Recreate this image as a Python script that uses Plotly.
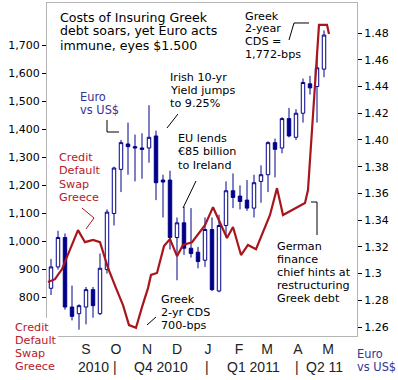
import plotly.graph_objects as go

# ---------------- data ----------------
candle_dates = [
    "2010-07-28", "2010-08-04", "2010-08-11", "2010-08-18", "2010-08-25",
    "2010-09-01", "2010-09-08", "2010-09-15", "2010-09-22", "2010-09-29",
    "2010-10-06", "2010-10-13", "2010-10-20", "2010-10-27", "2010-11-03",
    "2010-11-10", "2010-11-17", "2010-11-24", "2010-12-01", "2010-12-08",
    "2010-12-15", "2010-12-22", "2010-12-29", "2011-01-05", "2011-01-12",
    "2011-01-19", "2011-01-26", "2011-02-02", "2011-02-09", "2011-02-16",
    "2011-02-23", "2011-03-02", "2011-03-09", "2011-03-16", "2011-03-23",
    "2011-03-30", "2011-04-06", "2011-04-13", "2011-04-20", "2011-04-27",
]
eur_open = [1.289, 1.305, 1.327, 1.275, 1.270, 1.275, 1.288, 1.270, 1.303, 1.345,
            1.378, 1.397, 1.395, 1.394, 1.394, 1.403, 1.370, 1.370, 1.327, 1.338,
            1.319, 1.316, 1.310, 1.333, 1.287, 1.336, 1.362, 1.358, 1.355, 1.349,
            1.369, 1.374, 1.398, 1.394, 1.416, 1.402, 1.420, 1.442, 1.440, 1.453]
eur_high = [1.311, 1.332, 1.330, 1.291, 1.277, 1.290, 1.290, 1.315, 1.348, 1.380,
            1.400, 1.413, 1.404, 1.405, 1.426, 1.407, 1.374, 1.377, 1.342, 1.350,
            1.349, 1.320, 1.342, 1.342, 1.344, 1.369, 1.375, 1.366, 1.370, 1.374,
            1.381, 1.399, 1.401, 1.417, 1.424, 1.423, 1.446, 1.448, 1.462, 1.482]
eur_low = [1.284, 1.303, 1.273, 1.265, 1.258, 1.262, 1.267, 1.269, 1.300, 1.336,
           1.361, 1.374, 1.369, 1.371, 1.383, 1.355, 1.342, 1.318, 1.295, 1.314,
           1.312, 1.304, 1.305, 1.287, 1.286, 1.327, 1.349, 1.348, 1.347, 1.342,
           1.353, 1.361, 1.372, 1.390, 1.402, 1.400, 1.413, 1.434, 1.413, 1.447]
eur_close = [1.305, 1.327, 1.275, 1.268, 1.276, 1.288, 1.276, 1.304, 1.346, 1.379,
             1.398, 1.395, 1.394, 1.393, 1.402, 1.368, 1.3685, 1.327, 1.338, 1.319,
             1.315, 1.309, 1.333, 1.288, 1.336, 1.362, 1.357, 1.354, 1.349, 1.368,
             1.374, 1.398, 1.393, 1.416, 1.403, 1.420, 1.443, 1.439, 1.454, 1.4785]

cds_dates = [
    "2010-07-25", "2010-08-01", "2010-08-08", "2010-08-16", "2010-08-24",
    "2010-08-31", "2010-09-08", "2010-09-15", "2010-09-23", "2010-10-01",
    "2010-10-08", "2010-10-14", "2010-10-21", "2010-10-27", "2010-11-02",
    "2010-11-05", "2010-11-11", "2010-11-18", "2010-11-24", "2010-12-01",
    "2010-12-07", "2010-12-16", "2010-12-29", "2011-01-06", "2011-01-13",
    "2011-01-20", "2011-01-26", "2011-02-03", "2011-02-10", "2011-02-18",
    "2011-03-04", "2011-03-11", "2011-03-17", "2011-04-08", "2011-04-11",
    "2011-04-22", "2011-04-30", "2011-05-02",
]
cds_bps = [854, 864, 900, 968, 1039, 996, 1004, 996, 904, 832,
           771, 700, 690, 764, 832, 879, 886, 982, 1007, 946,
           986, 996, 1057, 1121, 1068, 1011, 1050, 950, 986, 971,
           1093, 1189, 1093, 1136, 1182, 1772, 1772, 1739]

month_ticks = ["2010-09-01", "2010-10-01", "2010-11-01", "2010-12-01", "2011-01-01",
               "2011-02-01", "2011-03-01", "2011-04-01", "2011-05-01"]
month_labels = ["S", "O", "N", "D", "J", "F", "M", "A", "M"]
period_dates = ["2010-09-08", "2010-09-30", "2010-11-15", "2010-12-31",
                "2011-02-15", "2011-03-31", "2011-04-27"]
period_labels = ["2010", "|", "Q4 2010", "|", "Q1 2011", "|", "Q2 11"]

cds_ticks = [800, 900, 1000, 1100, 1200, 1300, 1400, 1500, 1600, 1700]
cds_tick_labels = ["800", "900", "1,000", "1,100", "1,200", "1,300", "1,400",
                   "1,500", "1,600", "1,700"]
eur_ticks = [1.26, 1.28, 1.30, 1.32, 1.34, 1.36, 1.38, 1.40, 1.42, 1.44, 1.46, 1.48]
eur_tick_labels = ["1.26", "1.28", "1.3", "1.32", "1.34", "1.36", "1.38", "1.40",
                   "1.42", "1.44", "1.46", "1.48"]

title_lines = ["Costs of Insuring Greek", "debt soars, yet Euro acts", "immune, eyes $1.500"]
euro_lines = ["Euro", "vs US$"]
irish_lines = ["Irish 10-yr", "Yield jumps", "to 9.25%"]
eu_lines = ["EU lends", "€85 billion", "to Ireland"]
cds_label_lines = ["Credit", "Default", "Swap", "Greece"]
low_lines = ["Greek", "2-yr CDS", "700-bps"]
high_lines = ["Greek", "2-year", "CDS =", "1,772-bps"]
german_lines = ["German", "finance", "chief hints at", "restructuring", "Greek debt"]

# ---------------- layout geometry ----------------
W, H = 398, 380
L, R, T, B = 47, 41, 3, 44
PW, PH = W - L - R, H - T - B

NAVY = "#00008a"
RED = "#a8161c"
RED_TXT = "#b5202a"
BLUE_TXT = "#343496"
FONT = "DejaVu Sans"


def px(x):
    return (x - L) / PW


def py(y):
    return (H - B - y) / PH


fig = go.Figure()

fig.add_trace(go.Candlestick(
    x=candle_dates, open=eur_open, high=eur_high, low=eur_low, close=eur_close,
    yaxis="y",
    increasing=dict(line=dict(color=NAVY, width=1), fillcolor="white"),
    decreasing=dict(line=dict(color=NAVY, width=1), fillcolor=NAVY),
    whiskerwidth=0, showlegend=False, hoverinfo="skip",
))

fig.add_trace(go.Scatter(
    x=cds_dates, y=cds_bps, yaxis="y2", mode="lines",
    line=dict(color=RED, width=2.2), showlegend=False, hoverinfo="skip",
))

annotations = []


def block(lines, x, y0, step, color="black", size=11, family=FONT):
    for i, t in enumerate(lines):
        annotations.append(dict(
            text=t, xref="paper", yref="paper", x=px(x), y=py(y0 + i * step),
            xanchor="left", yanchor="middle", showarrow=False,
            font=dict(family=family, size=size, color=color),
        ))


block(title_lines, 58, 17, 14, size=12.6)
block(euro_lines, 78, 97, 13, color=BLUE_TXT, size=11.4)
block(irish_lines, 168, 77, 13, size=11.2)
block(eu_lines, 176, 138, 13.5, size=11.2)
block(cds_label_lines, 57, 158, 13, color=RED_TXT, size=11.2)
block(low_lines, 159, 299, 13, size=11.2)
block(high_lines, 243, 16, 12.7, size=11.2)
block(german_lines, 275, 246, 13, size=11.2)
block(euro_lines, 355, 354, 13, color=BLUE_TXT, size=11.4)
block(cds_label_lines, 13, 327, 13, color=RED_TXT, size=11.2)

for d, t in zip(period_dates, period_labels):
    annotations.append(dict(
        text=t, xref="x", yref="paper", x=d, y=py(367),
        xanchor="center", yanchor="middle", showarrow=False,
        font=dict(family="Liberation Sans", size=14, color="#222222"),
    ))


def path(points):
    s = "M " + " L ".join(f"{px(a):.5f},{py(b):.5f}" for a, b in points)
    return s


shapes = [
    dict(type="rect", xref="paper", yref="paper", x0=px(6), x1=px(58),
         y0=py(378), y1=py(318), fillcolor="white", line=dict(width=0), layer="above"),
    dict(type="path", xref="paper", yref="paper",
         path=path([(107, 120), (107, 132), (119, 132)]), line=dict(color="black", width=1)),
    dict(type="path", xref="paper", yref="paper",
         path=path([(167, 128), (178, 114)]), line=dict(color="black", width=1)),
    dict(type="path", xref="paper", yref="paper",
         path=path([(183, 208), (196, 181)]), line=dict(color="black", width=1)),
    dict(type="path", xref="paper", yref="paper",
         path=path([(82, 208), (94, 218), (86, 229)]), line=dict(color=RED, width=1)),
    dict(type="path", xref="paper", yref="paper",
         path=path([(147, 325), (156, 317)]), line=dict(color="black", width=1)),
    dict(type="path", xref="paper", yref="paper",
         path=path([(289, 40), (294, 23), (309, 23)]), line=dict(color="black", width=1)),
    dict(type="path", xref="paper", yref="paper",
         path=path([(311, 202), (317, 202), (317, 235)]), line=dict(color="black", width=1)),
]

FRAME = "#b4b4b4"
fig.update_layout(
    width=W, height=H, margin=dict(l=L, r=R, t=T, b=B, pad=0),
    paper_bgcolor="white", plot_bgcolor="white", showlegend=False,
    font=dict(family=FONT, size=11, color="black"),
    xaxis=dict(
        type="date", range=["2010-07-24", "2011-05-30"],
        tickvals=month_ticks, ticktext=month_labels, ticks="",
        tickfont=dict(family="Liberation Sans", size=14, color="#222222"),
        showgrid=False, zeroline=False, showline=True, mirror=True,
        linecolor=FRAME, linewidth=1, rangeslider=dict(visible=False),
        fixedrange=True,
    ),
    yaxis=dict(
        side="right", range=[1.2533, 1.5025],
        tickvals=eur_ticks, ticktext=eur_tick_labels,
        ticks="outside", ticklen=4, tickcolor="black", tickwidth=1,
        tickfont=dict(family=FONT, size=11, color="black"),
        showgrid=False, zeroline=False, showline=True, linecolor=FRAME,
        fixedrange=True,
    ),
    yaxis2=dict(
        side="left", overlaying="y", range=[661, 1850],
        tickvals=cds_ticks, ticktext=cds_tick_labels,
        ticks="outside", ticklen=4, tickcolor="black", tickwidth=1,
        tickfont=dict(family=FONT, size=11, color="black"),
        showgrid=False, zeroline=False, showline=True, linecolor=FRAME,
        fixedrange=True,
    ),
    annotations=annotations,
    shapes=shapes,
)

fig.write_html("out.html", config={"displayModeBar": False, "staticPlot": True},
               post_script="document.body.style.margin='0px';")
